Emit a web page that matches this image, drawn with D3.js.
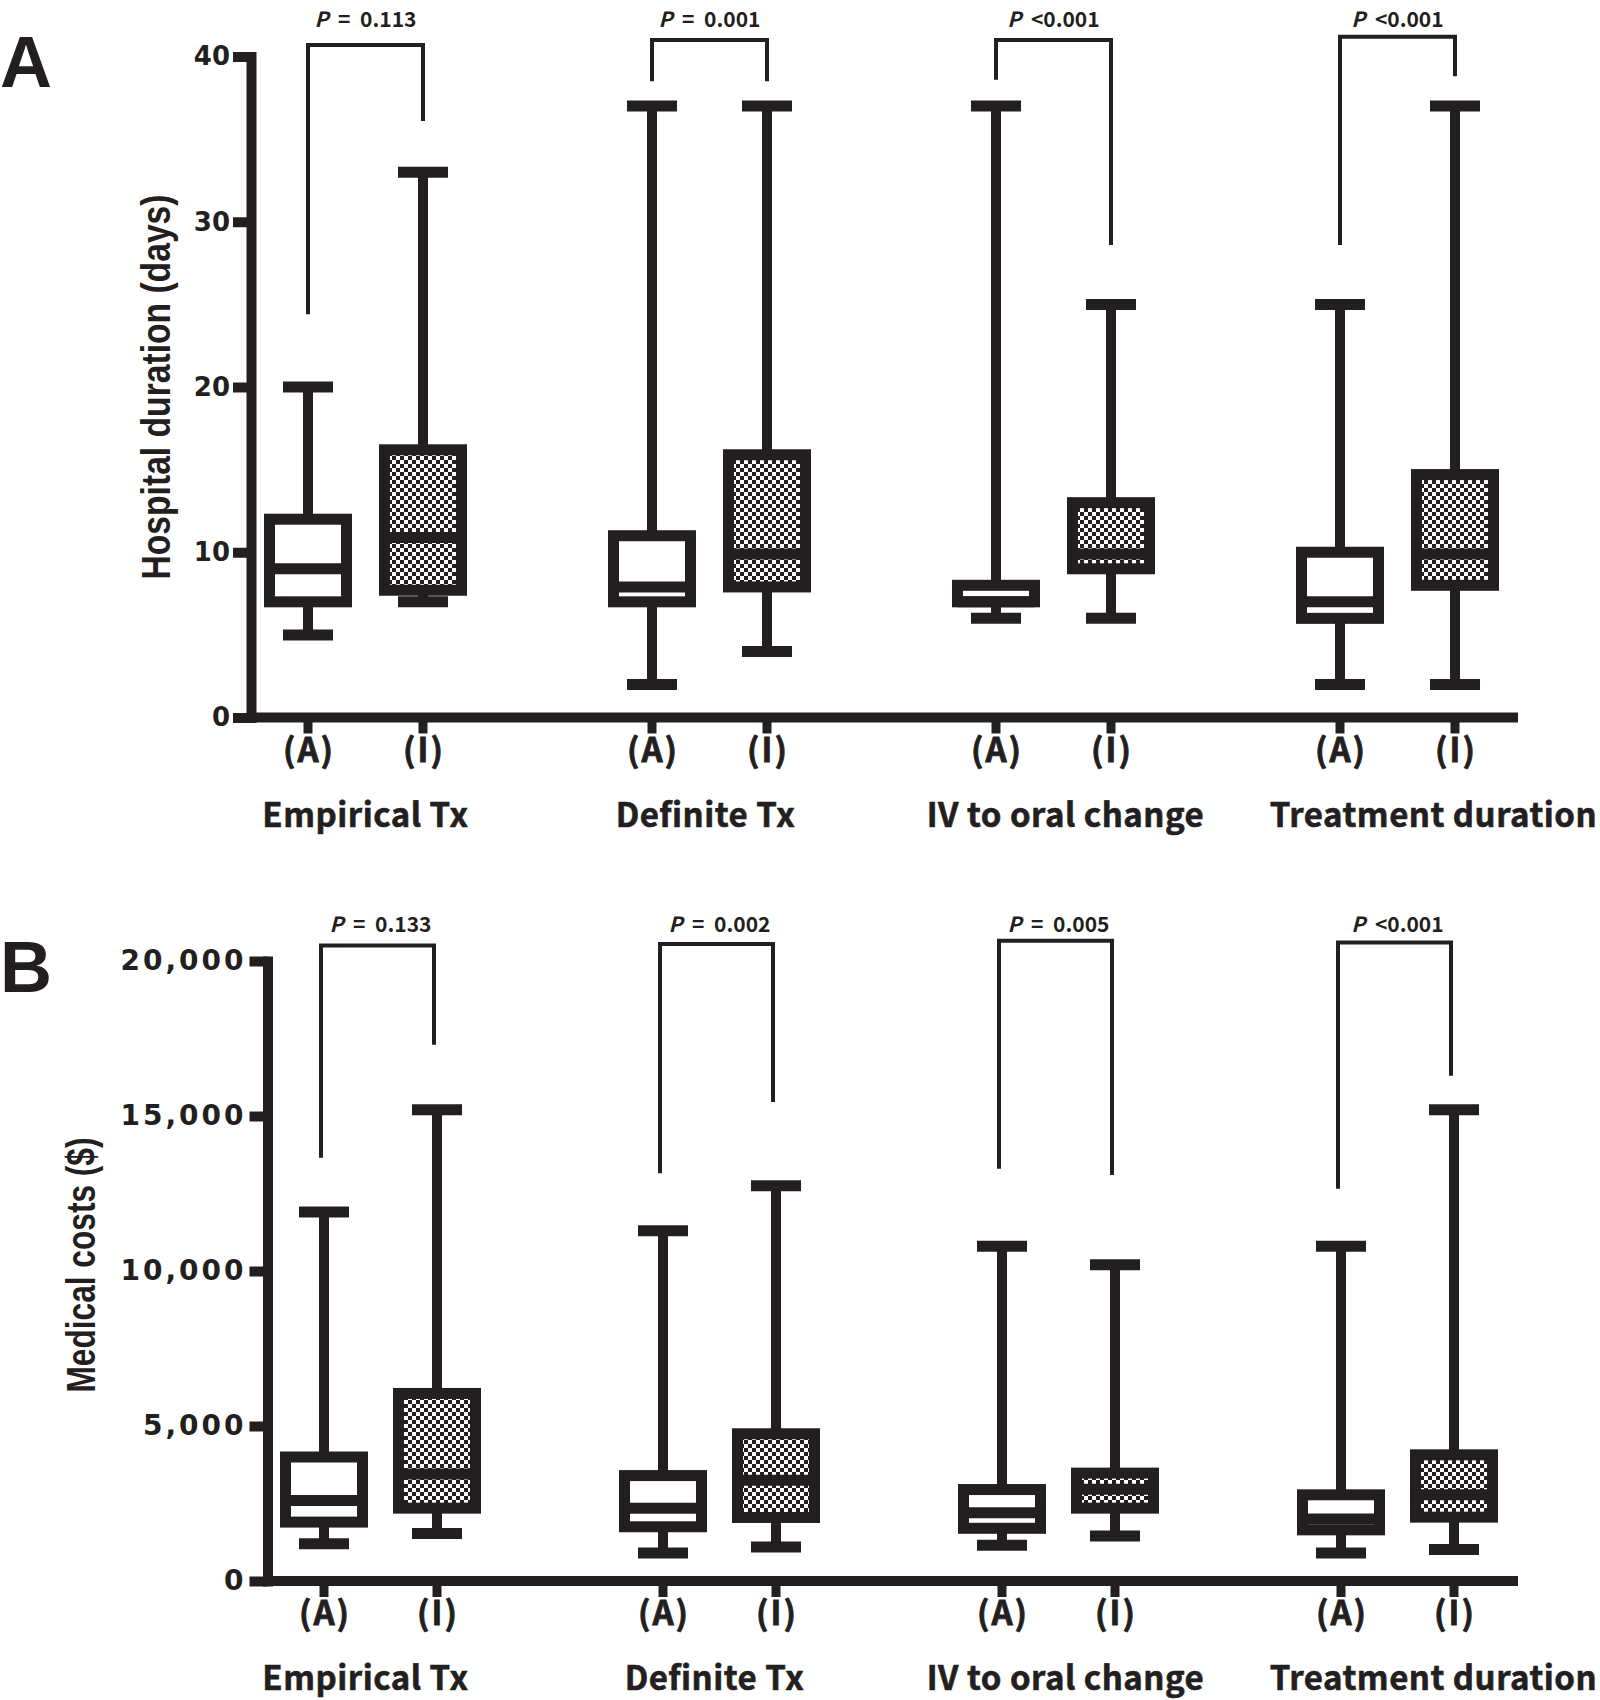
<!DOCTYPE html>
<html><head><meta charset="utf-8">
<script src="https://cdn.jsdelivr.net/npm/d3@7"></script>
<style>body{margin:0;background:#fff}</style>
</head><body>
<svg id="chart" width="1600" height="1700"></svg>
<script>
// ---------- DATA ----------
const categories = ["Empirical Tx", "Definite Tx", "IV to oral change", "Treatment duration"];
const groups = ["(A)", "(I)"];

// Panel A: hospital duration (days)
const hospMinA = [5, 2, 6, 2];
const hospQ1A  = [7, 7, 7, 6];
const hospMedA = [9, 7.9, 7, 7];
const hospQ3A  = [12, 11, 8, 10];
const hospMaxA = [20, 37, 37, 25];
const hospMinI = [7, 4, 6, 2];
const hospQ1I  = [7.7, 7.9, 9, 8];
const hospMedI = [10.9, 9.9, 9.9, 9.9];
const hospQ3I  = [16.2, 15.9, 13, 14.7];
const hospMaxI = [33, 37, 25, 37];
const hospTicks = [0, 10, 20, 30, 40];
const pValuesA = ["= 0.113", "= 0.001", "<0.001", "<0.001"];
const bracketTopA   = [40.7, 41.0, 41.0, 41.2];
const bracketLeftA  = [24.4, 38.5, 38.6, 28.6];
const bracketRightA = [36.1, 38.5, 28.6, 38.8];

// Panel B: medical costs ($)
const costMinA = [1200, 900, 1150, 900];
const costQ1A  = [1900, 1750, 1700, 1650];
const costMedA = [2600, 2350, 2200, 2000];
const costQ3A  = [4000, 3400, 2950, 2780];
const costMaxA = [11900, 11300, 10800, 10800];
const costMinI = [1530, 1100, 1450, 1020];
const costQ1I  = [2350, 2050, 2350, 2060];
const costMedI = [3450, 3250, 2960, 2780];
const costQ3I  = [6050, 4750, 3480, 4070];
const costMaxI = [15200, 12750, 10200, 15200];
const costTicks = [0, 5000, 10000, 15000, 20000];
const pValuesB = ["= 0.133", "= 0.002", "= 0.005", "<0.001"];
const bracketTopB   = [20500, 20550, 20650, 20600];
const bracketLeftB  = [13650, 13150, 13300, 12650];
const bracketRightB = [17300, 15450, 13100, 16300];

// ---------- DRAWING ----------
const INK = "#231f20";
const svg = d3.select("#chart");
const defs = svg.append("defs");
const pat = defs.append("pattern").attr("id", "checker")
  .attr("patternUnits", "userSpaceOnUse").attr("width", 8).attr("height", 8);
pat.append("rect").attr("width", 8).attr("height", 8).attr("fill", "#fff");
pat.append("rect").attr("width", 4).attr("height", 4).attr("fill", INK);
pat.append("rect").attr("x", 4).attr("y", 4).attr("width", 4).attr("height", 4).attr("fill", INK);

const CJK = "'Noto Sans CJK KR', 'Noto Sans', sans-serif";

function drawPanel(cfg) {
  const g = svg.append("g");
  const y = d3.scaleLinear().domain(cfg.domain).range(cfg.yRange);
  const gx = d3.scalePoint().domain(categories).range(cfg.groupRange);
  const sx = d3.scalePoint().domain(groups).range([-cfg.sub, cfg.sub]);
  const y0 = y(0);

  // y axis
  const yAxis = d3.axisLeft(y).tickValues(cfg.ticks).tickSize(18).tickSizeOuter(0)
    .tickPadding(3).tickFormat(cfg.fmt);
  const ya = g.append("g").attr("transform", `translate(${cfg.axisX},0)`).call(yAxis);
  ya.select(".domain").attr("stroke", INK).attr("stroke-width", 10).attr("stroke-linecap", "square");
  ya.selectAll(".tick line").attr("stroke", INK).attr("stroke-width", 10);
  ya.selectAll(".tick text").attr("fill", INK)
    .style("font-family", "'DejaVu Sans', sans-serif").style("font-weight", "bold")
    .style("font-size", cfg.tickFont + "px").style("letter-spacing", cfg.tickSpacing + "px");

  // x axis line
  g.append("line").attr("x1", cfg.axisX).attr("x2", cfg.axisEnd)
    .attr("y1", y0).attr("y2", y0).attr("stroke", INK).attr("stroke-width", 10);

  const stats = [
    {grp: "(A)", min: cfg.minA, q1: cfg.q1A, med: cfg.medA, q3: cfg.q3A, max: cfg.maxA, fill: "#fff"},
    {grp: "(I)", min: cfg.minI, q1: cfg.q1I, med: cfg.medI, q3: cfg.q3I, max: cfg.maxI, fill: "url(#checker)"}
  ];
  const boxW = 77, capW = 50;

  categories.forEach((cat, i) => {
    stats.forEach(s => {
      const x = gx(cat) + sx(s.grp);
      // x tick
      g.append("line").attr("x1", x).attr("x2", x).attr("y1", y0).attr("y2", y0 + 16)
        .attr("stroke", INK).attr("stroke-width", 9);
      // group label
      g.append("text").attr("x", x + 1).attr("y", y0 + 44).attr("text-anchor", "middle")
        .style("font-family", CJK).style("font-weight", "bold").style("font-size", "33px")
        .style("letter-spacing", "2px").attr("fill", INK)
        .attr("stroke", INK).attr("stroke-width", 0.8).text(s.grp);
      // whiskers
      g.append("line").attr("x1", x).attr("x2", x).attr("y1", y(s.max[i])).attr("y2", y(s.min[i]))
        .attr("stroke", INK).attr("stroke-width", 10);
      [s.max[i], s.min[i]].forEach(v => {
        g.append("line").attr("x1", x - capW / 2).attr("x2", x + capW / 2)
          .attr("y1", y(v)).attr("y2", y(v)).attr("stroke", INK).attr("stroke-width", 11);
      });
      // box
      g.append("rect").attr("x", x - boxW / 2).attr("y", y(s.q3[i]))
        .attr("width", boxW).attr("height", y(s.q1[i]) - y(s.q3[i]))
        .attr("fill", s.fill).attr("stroke", INK).attr("stroke-width", 11);
      // median
      g.append("line").attr("x1", x - boxW / 2).attr("x2", x + boxW / 2)
        .attr("y1", y(s.med[i])).attr("y2", y(s.med[i])).attr("stroke", INK).attr("stroke-width", 11);
    });

    // category label
    g.append("text").attr("x", gx(cat) + cfg.labelDx[i]).attr("y", y0 + 109)
      .attr("text-anchor", "middle").attr("fill", INK)
      .attr("stroke", INK).attr("stroke-width", 0.6)
      .style("font-family", CJK).style("font-weight", "bold").style("font-size", "33px")
      .style("letter-spacing", "0.5px")
      .text(cat);

    // bracket
    const xl = gx(cat) + sx("(A)") + cfg.bracketDx, xr = gx(cat) + sx("(I)") + cfg.bracketDx;
    const path = d3.path();
    path.moveTo(xl, y(cfg.bLeft[i]));
    path.lineTo(xl, y(cfg.bTop[i]));
    path.lineTo(xr, y(cfg.bTop[i]));
    path.lineTo(xr, y(cfg.bRight[i]));
    g.append("path").attr("d", path.toString()).attr("fill", "none")
      .attr("stroke", INK).attr("stroke-width", 4);

    // p-value
    const t = g.append("text").attr("x", gx(cat)).attr("y", cfg.pY).attr("text-anchor", "middle")
      .attr("fill", INK).style("font-family", CJK).style("font-weight", "bold").style("font-size", "21px")
      .style("white-space", "pre");
    t.append("tspan").style("font-style", "italic").text("P");
    t.append("tspan").text(cfg.p[i].startsWith("=") ? "  " + cfg.p[i].replace("= ", "=  ") : "  " + cfg.p[i]);
  });

  // axis title
  g.append("text").attr("transform", `translate(${cfg.titleX},${cfg.titleY}) rotate(-90)`)
    .attr("text-anchor", "middle").attr("fill", INK)
    .attr("textLength", cfg.titleLen).attr("lengthAdjust", "spacingAndGlyphs")
    .style("font-family", "'Liberation Sans Narrow', 'Liberation Sans', Arial, sans-serif")
    .style("font-weight", "bold").style("font-size", "41px").text(cfg.title);

  // panel letter
  g.append("text").attr("x", 0).attr("y", cfg.letterY).attr("fill", INK)
    .style("font-family", "'Liberation Sans', Arial, sans-serif").style("font-weight", "bold")
    .style("font-size", "72px").text(cfg.letter);
}

drawPanel({
  domain: [0, 40], yRange: [717.5, 56.5], ticks: hospTicks, fmt: d3.format("d"),
  tickFont: 26, tickSpacing: 0,
  axisX: 251, axisEnd: 1518, groupRange: [365.5, 1397.5], sub: 57.5,
  minA: hospMinA, q1A: hospQ1A, medA: hospMedA, q3A: hospQ3A, maxA: hospMaxA,
  minI: hospMinI, q1I: hospQ1I, medI: hospMedI, q3I: hospQ3I, maxI: hospMaxI,
  labelDx: [0, -4, 12, 36],
  bTop: bracketTopA, bLeft: bracketLeftA, bRight: bracketRightA, bracketDx: 0,
  p: pValuesA, pY: 27,
  title: "Hospital duration (days)", titleX: 170, titleY: 387, titleLen: 385,
  letter: "A", letterY: 87
});

drawPanel({
  domain: [0, 20000], yRange: [1581, 961], ticks: costTicks, fmt: d3.format(","),
  tickFont: 28, tickSpacing: 3,
  axisX: 267.5, axisEnd: 1518, groupRange: [380.5, 1397.5], sub: 56.5,
  minA: costMinA, q1A: costQ1A, medA: costMedA, q3A: costQ3A, maxA: costMaxA,
  minI: costMinI, q1I: costQ1I, medI: costMedI, q3I: costQ3I, maxI: costMaxI,
  labelDx: [-15, -5, 7, 36],
  bTop: bracketTopB, bLeft: bracketLeftB, bRight: bracketRightB, bracketDx: -3,
  p: pValuesB, pY: 932,
  title: "Medical costs ($)", titleX: 95, titleY: 1265, titleLen: 255,
  letter: "B", letterY: 992
});
</script>
</body></html>
